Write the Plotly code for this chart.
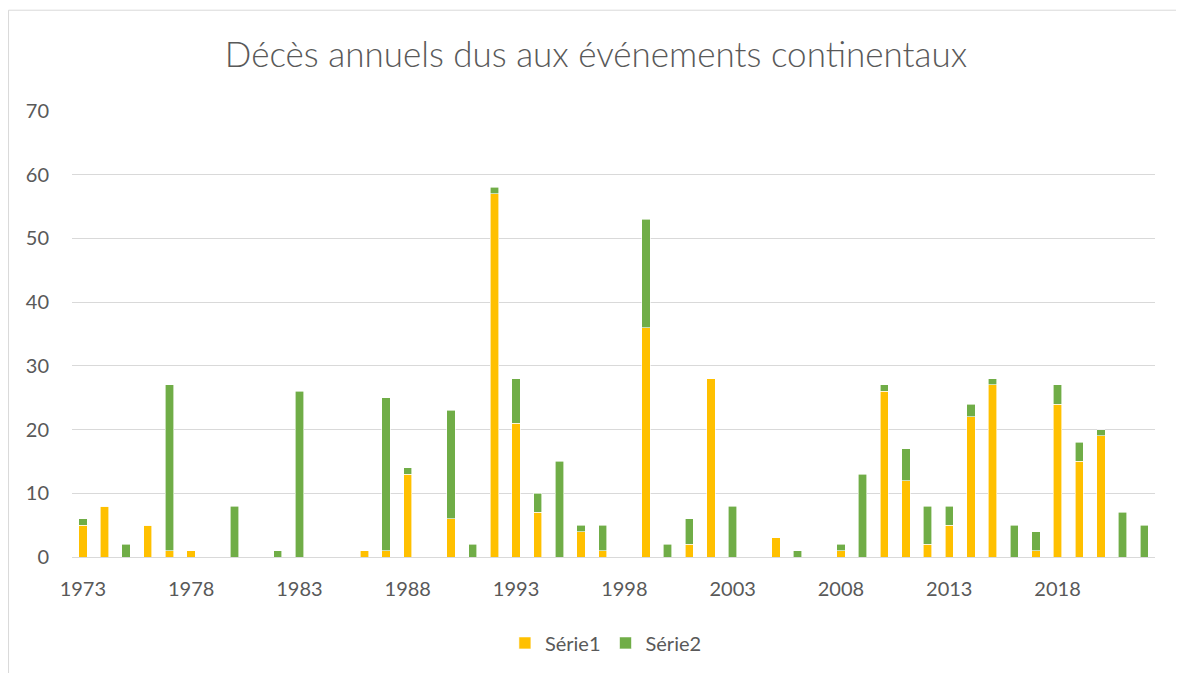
import plotly.graph_objects as go

years = list(range(1973, 2023))
serie1 = [5, 8, 0, 5, 1, 1, 0, 0, 0, 0,
          0, 0, 0, 1, 1, 13, 0, 6, 0, 57,
          21, 7, 0, 4, 1, 0, 36, 0, 2, 28,
          0, 0, 3, 0, 0, 1, 0, 26, 12, 2,
          5, 22, 27, 0, 1, 24, 15, 19, 0, 0]
serie2 = [1, 0, 2, 0, 26, 0, 0, 8, 0, 1,
          26, 0, 0, 0, 24, 1, 0, 17, 2, 1,
          7, 3, 15, 1, 4, 0, 17, 2, 4, 0,
          8, 0, 0, 1, 0, 1, 13, 1, 5, 6,
          3, 2, 1, 5, 3, 3, 3, 1, 7, 5]
tick_years = [1973, 1978, 1983, 1988, 1993, 1998, 2003, 2008, 2013, 2018]
title_text = "Décès annuels dus aux événements continentaux"

font_family = "Lato, 'Open Sans', sans-serif"
grey = "#595959"

fig = go.Figure()
fig.add_trace(go.Bar(x=years, y=serie1, name="Série1", width=0.385,
                     marker=dict(color="#FFC000", line=dict(color="white", width=0.6))))
fig.add_trace(go.Bar(x=years, y=serie2, name="Série2", width=0.385,
                     marker=dict(color="#70AD47", line=dict(color="white", width=0.6))))

fig.update_layout(
    barmode="stack",
    width=1176, height=665,
    margin=dict(l=64, r=29, t=103, b=115),
    plot_bgcolor="white", paper_bgcolor="white",
    font=dict(family=font_family, color=grey, size=20),
    title=dict(text=title_text, x=0.5, xanchor="center", y=0.929, yanchor="middle",
               font=dict(size=35, color=grey, family=font_family, weight=300)),
    showlegend=True,
    legend=dict(orientation="h", x=0.493, xanchor="center", y=-0.19, yanchor="middle",
                font=dict(size=20, color=grey), itemwidth=30, traceorder="normal"),
    xaxis=dict(range=[1972.5, 2022.5], tickmode="array", tickvals=tick_years,
               ticktext=[str(t) for t in tick_years], showgrid=False, zeroline=False,
               showline=True, linecolor="#d9d9d9", linewidth=1, ticks="",
               ticklabelstandoff=14, tickfont=dict(size=20, color=grey)),
    yaxis=dict(range=[0, 70], dtick=10, showgrid=True, gridcolor="#d9d9d9", gridwidth=1,
               zeroline=False, showline=False, ticks="", ticklabelstandoff=22,
               tickfont=dict(size=20, color=grey)),
)

fig.add_shape(type="rect", xref="paper", yref="paper",
              x0=-0.0586, x1=1.05, y0=-0.3, y1=1.226,
              line=dict(color="#d9d9d9", width=1), fillcolor="rgba(0,0,0,0)", layer="below")

fig.write_html("out.html")
